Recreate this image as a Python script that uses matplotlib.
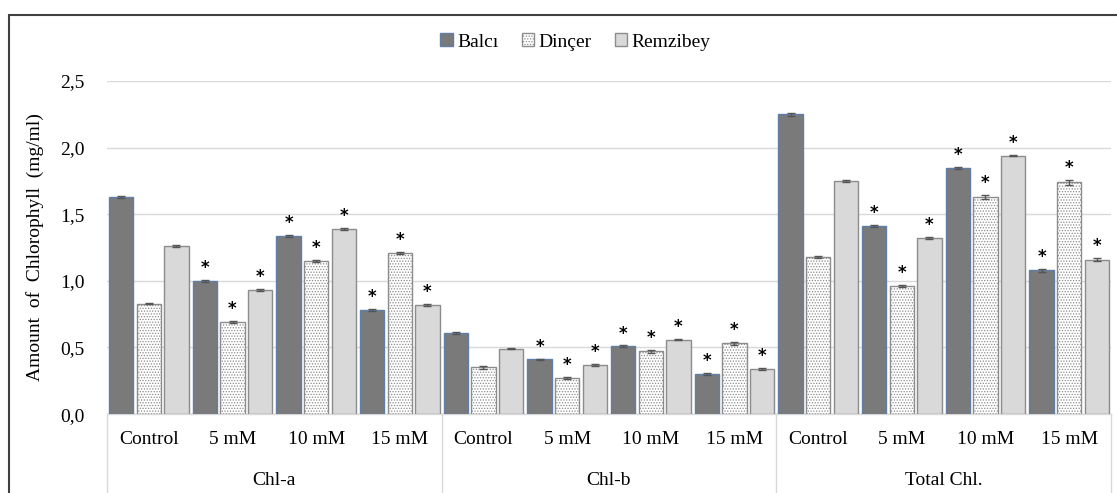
"""Chlorophyll content of three cultivars under increasing treatment doses."""

import matplotlib

matplotlib.use("Agg")

import matplotlib.pyplot as plt
import matplotlib.transforms as mtransforms
from matplotlib.patches import Patch, Rectangle

groups = ["Chl-a", "Chl-b", "Total Chl."]
treatments = ["Control", "5 mM", "10 mM", "15 mM"]
cultivars = ["Balcı", "Dinçer", "Remzibey"]

# values per cultivar, ordered group by group, treatment by treatment
balci = [1.63, 1.00, 1.34, 0.78,
         0.61, 0.41, 0.51, 0.30,
         2.25, 1.41, 1.85, 1.08]
dincer = [0.83, 0.69, 1.15, 1.21,
          0.35, 0.27, 0.47, 0.53,
          1.18, 0.96, 1.63, 1.74]
remzibey = [1.26, 0.93, 1.39, 0.82,
            0.49, 0.37, 0.56, 0.34,
            1.75, 1.32, 1.94, 1.16]

balci_err = [0.008, 0.006, 0.008, 0.008,
             0.008, 0.006, 0.005, 0.005,
             0.010, 0.008, 0.008, 0.012]
dincer_err = [0.006, 0.006, 0.008, 0.008,
              0.010, 0.006, 0.010, 0.012,
              0.008, 0.006, 0.012, 0.020]
remzibey_err = [0.006, 0.008, 0.005, 0.005,
                0.005, 0.006, 0.006, 0.006,
                0.008, 0.008, 0.005, 0.012]

# significance marks (treated vs control)
significant = [False, True, True, True] * 3

plt.rcParams["font.family"] = ["Liberation Serif", "DejaVu Serif"]
plt.rcParams["hatch.color"] = "#8c8c8c"
plt.rcParams["hatch.linewidth"] = 0.6

FONT = 14

figure = plt.figure(figsize=(11.17, 4.93), dpi=100)
axes = figure.add_axes([0.0958, 0.160, 0.8988, 0.6757])

positions = list(range(len(balci)))
width = 0.29
offset = 0.33

styles = [
    dict(color="#7a7a7a", edgecolor="#5f7fa8", hatch=None),
    dict(color="white", edgecolor="#8c8c8c", hatch="......"),
    dict(color="#d9d9d9", edgecolor="#8c8c8c", hatch=None),
]
series = [balci, dincer, remzibey]
errors = [balci_err, dincer_err, remzibey_err]

for index, (values, errs, style) in enumerate(zip(series, errors, styles)):
    xs = [p + (index - 1) * offset for p in positions]
    axes.bar(
        xs,
        values,
        width=width,
        color=style["color"],
        edgecolor=style["edgecolor"],
        hatch=style["hatch"],
        linewidth=1.0,
        zorder=3,
    )
    axes.errorbar(
        xs,
        values,
        yerr=errs,
        fmt="none",
        ecolor="#555555",
        elinewidth=1.0,
        capsize=3,
        zorder=4,
    )
    for x, value, err, mark in zip(xs, values, errs, significant):
        if mark:
            axes.text(
                x,
                value + err + 0.09,
                "*",
                ha="center",
                va="center",
                fontsize=12,
                fontweight="bold",
                color="black",
                family="DejaVu Sans",
            )

axes.set_ylim(0.0, 2.5)
axes.set_xlim(-0.5, len(positions) - 0.5)
axes.set_yticks([0.0, 0.5, 1.0, 1.5, 2.0, 2.5])
axes.set_yticklabels([f"{v:.1f}".replace(".", ",") for v in axes.get_yticks()])
axes.yaxis.grid(True, color="#d9d9d9", linewidth=1.0, zorder=0)
axes.set_axisbelow(True)
for spine in ["top", "right", "left"]:
    axes.spines[spine].set_visible(False)
axes.spines["bottom"].set_color("#d9d9d9")
axes.spines["bottom"].set_linewidth(1.0)
axes.tick_params(axis="y", length=0, pad=16, labelsize=FONT)
axes.tick_params(axis="x", length=0, pad=12, labelsize=FONT)

axes.set_xticks(positions)
axes.set_xticklabels(treatments * len(groups))
axes.set_ylabel("Amount  of  Chlorophyll  (mg/ml)", fontsize=FONT, labelpad=12)

# second category level and separators below the axis
blend = mtransforms.blended_transform_factory(axes.transData, axes.transAxes)
n = len(treatments)
for g, name in enumerate(groups):
    axes.text(
        g * n + (n - 1) / 2,
        -0.20,
        name,
        transform=blend,
        ha="center",
        va="center",
        fontsize=FONT,
    )
for g in range(len(groups) + 1):
    axes.plot(
        [g * n - 0.5, g * n - 0.5],
        [0.0, -0.30],
        transform=blend,
        color="#d9d9d9",
        linewidth=1.0,
        clip_on=False,
    )

handles = [
    Patch(facecolor=s["color"], edgecolor=s["edgecolor"], hatch=s["hatch"])
    for s in styles
]
figure.legend(
    handles,
    cultivars,
    loc="center",
    bbox_to_anchor=(0.515, 0.915),
    ncol=3,
    frameon=False,
    fontsize=FONT,
    handlelength=0.65,
    handleheight=0.65,
    handletextpad=0.2,
    columnspacing=1.2,
)

figure.add_artist(
    Rectangle(
        (9 / 1117, -0.1),
        1.2,
        1.1 - 15 / 493,
        transform=figure.transFigure,
        fill=False,
        edgecolor="#404040",
        linewidth=1.5,
    )
)

figure.savefig("out.png", dpi=100)
plt.close(figure)
